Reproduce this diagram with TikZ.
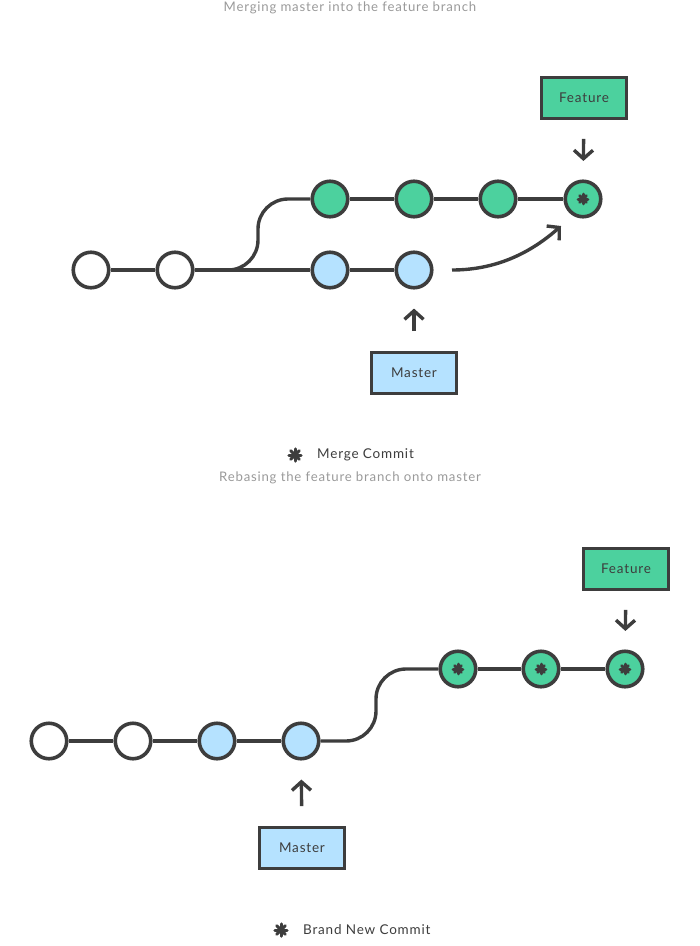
\documentclass[tikz,border=0pt]{standalone}
\usepackage{fontspec}
\setmainfont{Lato}[LetterSpace=6]
\usetikzlibrary{arrows.meta,calc}
\definecolor{ink}{HTML}{3D3D3D}
\definecolor{grn}{HTML}{4CD19E}
\definecolor{blu}{HTML}{B5E2FF}
\definecolor{capgray}{HTML}{9A9A9A}
\tikzset{
  commit/.style={circle, draw=ink, line width=3.6pt, minimum size=35.5pt, inner sep=0pt, fill=white},
  gcommit/.style={commit, fill=grn},
  bcommit/.style={commit, fill=blu},
  link/.style={draw=ink, line width=3.4pt},
  branchbox/.style={draw=ink, line width=3.6pt, minimum width=85pt, minimum height=41pt, inner sep=0pt, font=\fontsize{13.5}{16}\selectfont, text=ink},
  ptr/.style={draw=ink, line width=3.4pt, -{Straight Barb[length=8.5pt, width=19pt]}},
  caption/.style={font=\fontsize{13.2}{15}\selectfont, text=capgray},
  legend/.style={font=\fontsize{13.5}{16}\selectfont, text=ink, anchor=west, inner sep=0pt},
  mstar/.pic={
    \foreach \a in {0,45,90,135}{
      \draw[ink, line width=3pt, line cap=round] (\a:4.8pt) -- (\a+180:4.8pt);
    }
    \fill[ink] (0,0) circle (2.8pt);
  }
}
\begin{document}
\begin{tikzpicture}[x=1pt,y=-1pt]
\useasboundingbox (0,0) rectangle (700,946);

% ---------- top: merge ----------
\node[caption] (title1) at (350,8) {Merging master into the feature branch};

\node[commit]  (tw1) at (91,270) {};
\node[commit]  (tw2) at (175,270) {};
\node[bcommit] (tb1) at (330,270) {};
\node[bcommit] (tb2) at (414,270) {};
\node[gcommit] (tg1) at (330,199) {};
\node[gcommit] (tg2) at (414,199) {};
\node[gcommit] (tg3) at (498,199) {};
\node[gcommit] (tg4) at (583,199) {};
\pic at (tg4) {mstar};

\draw[link] (tw1) -- (tw2);
\draw[link] (tw2) -- (tb1);
\draw[link] (tb1) -- (tb2);
\draw[link] (tg1) -- (tg2);
\draw[link] (tg2) -- (tg3);
\draw[link] (tg3) -- (tg4);
\coordinate (tk) at (258,199);
\draw[link, rounded corners=30pt] (tw2.east) -| (tk) -- (tg1.west);

\coordinate (ca1) at (452,270);
\coordinate (ca2) at (561,226);
\draw[ptr] (ca1) .. controls (502,270) and (536,248) .. (ca2);

\node[branchbox, fill=grn] (tfeat) at (584,98) {Feature};
\node[branchbox, fill=blu] (tmast) at (414,373) {Master};
\draw[ptr, shorten <=18.5pt, shorten >=18.5pt] (tfeat) -- (tg4);
\draw[ptr, shorten <=19.5pt, shorten >=19pt] (tmast) -- (tb2);

\pic[scale=1.3] at (295,455) {mstar};
\node[legend] (leg1) at (317,455) {Merge Commit};

% ---------- bottom: rebase ----------
\node[caption] (title2) at (350,478) {Rebasing the feature branch onto master};

\node[commit]  (bw1) at (49,741) {};
\node[commit]  (bw2) at (133,741) {};
\node[bcommit] (bb1) at (217,741) {};
\node[bcommit] (bb2) at (301,741) {};
\node[gcommit] (bg1) at (458,669) {};
\node[gcommit] (bg2) at (541,669) {};
\node[gcommit] (bg3) at (625,669) {};
\pic at (bg1) {mstar};
\pic at (bg2) {mstar};
\pic at (bg3) {mstar};

\draw[link] (bw1) -- (bw2);
\draw[link] (bw2) -- (bb1);
\draw[link] (bb1) -- (bb2);
\draw[link] (bg1) -- (bg2);
\draw[link] (bg2) -- (bg3);
\coordinate (bk) at (376,669);
\draw[link, rounded corners=30pt] (bb2.east) -| (bk) -- (bg1.west);

\node[branchbox, fill=grn] (bfeat) at (626,569) {Feature};
\node[branchbox, fill=blu] (bmast) at (302,848) {Master};
\draw[ptr, shorten <=18.5pt, shorten >=18.5pt] (bfeat) -- (bg3);
\draw[ptr, shorten <=19.5pt, shorten >=19pt] (bmast) -- (bb2);

\pic[scale=1.3] at (281,930) {mstar};
\node[legend] (leg2) at (303,930) {Brand New Commit};
\end{tikzpicture}
\end{document}
